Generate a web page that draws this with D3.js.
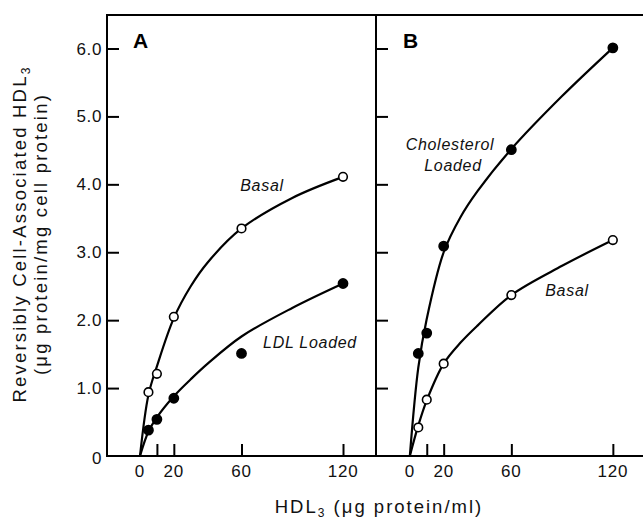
<!DOCTYPE html>
<html><head><meta charset="utf-8">
<script src="https://cdn.jsdelivr.net/npm/d3@7"></script>
<style>
body{margin:0;background:#fff;}
svg{display:block;font-family:"Liberation Sans",Arial,Helvetica,sans-serif;}
</style></head>
<body><svg id="chart" width="643" height="519"></svg>
<script>
// ---- data ----
const doses = [5, 10, 20, 60, 120];
const basalA = [0.94, 1.21, 2.05, 3.35, 4.11];
const ldlLoadedA = [0.38, 0.54, 0.85, 1.51, 2.54];
const cholLoadedB = [1.51, 1.81, 3.09, 4.51, 6.01];
const basalB = [0.42, 0.83, 1.36, 2.37, 3.18];

// fitted curves
const fitX = [0, 5, 10, 20, 30, 40, 60, 90, 120];
const fitBasalA = [0, 0.90, 1.32, 2.03, 2.50, 2.85, 3.35, 3.80, 4.11];
const fitLdlA = [0, 0.36, 0.57, 0.88, 1.13, 1.36, 1.76, 2.18, 2.54];
const fitCholB = [0, 1.30, 2.02, 3.00, 3.52, 3.90, 4.52, 5.30, 6.01];
const fitBasalB = [0, 0.45, 0.82, 1.36, 1.67, 1.92, 2.37, 2.80, 3.18];

const yTicks = [0, 1, 2, 3, 4, 5, 6];
const yTickLabels = ["0", "1.0", "2.0", "3.0", "4.0", "5.0", "6.0"];
const xTickMarks = [10, 20, 60, 120];
const xTickLabels = [0, 20, 60, 120];

(function () {
const svg = d3.select("#chart");
const topY = 15, bottomY = 456;
const y = d3.scaleLinear().domain([0, 6]).range([456, 48.5]);
const xA = d3.scaleLinear().domain([-19.5, 139.5]).range([107, 376]);
const xB = d3.scaleLinear().domain([-20, 139]).range([376, 645]);

// frame
const frame = svg.append("g").attr("stroke", "#000").attr("stroke-width", 2).attr("fill", "none");
frame.append("line").attr("x1", 107).attr("x2", 643).attr("y1", topY).attr("y2", topY);
frame.append("line").attr("x1", 106).attr("x2", 643).attr("y1", bottomY).attr("y2", bottomY);
frame.append("line").attr("x1", 107).attr("x2", 107).attr("y1", topY - 1).attr("y2", bottomY + 1);
frame.append("line").attr("x1", 376).attr("x2", 376).attr("y1", topY - 1).attr("y2", bottomY + 1);

// y ticks (inward, both panels)
[107, 376].forEach(x0 => {
  const ax = d3.axisRight(y).tickValues(yTicks.slice(1)).tickSize(12).tickFormat("");
  const g = svg.append("g").attr("transform", `translate(${x0},0)`).call(ax);
  g.select(".domain").remove();
  g.selectAll(".tick line").attr("stroke", "#000").attr("stroke-width", 2);
});
// y tick labels
svg.append("g").selectAll("text").data(yTicks).join("text")
  .attr("x", 102).attr("y", d => y(d) + (d === 0 ? 8 : 6))
  .attr("text-anchor", "end").attr("font-size", 17).attr("letter-spacing", 0.6).attr("fill", "#111")
  .text((d, i) => yTickLabels[i]);

// x ticks per panel
[xA, xB].forEach(xs => {
  const ax = d3.axisTop(xs).tickValues(xTickMarks).tickSize(12).tickFormat("");
  const g = svg.append("g").attr("transform", `translate(0,${bottomY})`).call(ax);
  g.select(".domain").remove();
  g.selectAll(".tick line").attr("stroke", "#000").attr("stroke-width", 2);
  svg.append("g").selectAll("text").data(xTickLabels).join("text")
    .attr("x", d => xs(d)).attr("y", 477).attr("text-anchor", "middle")
    .attr("font-size", 17).attr("letter-spacing", 0.8).attr("fill", "#111").text(d => d);
});

// curves
function drawCurve(xs, vals) {
  const line = d3.line().x((d, i) => xs(fitX[i])).y(d => y(d)).curve(d3.curveCatmullRom.alpha(0.5));
  svg.append("path").datum(vals).attr("d", line)
    .attr("fill", "none").attr("stroke", "#000").attr("stroke-width", 2.2);
}
drawCurve(xA, fitBasalA);
drawCurve(xA, fitLdlA);
drawCurve(xB, fitCholB);
drawCurve(xB, fitBasalB);

// points
function drawPoints(xs, vals, filled) {
  svg.append("g").selectAll("circle").data(vals).join("circle")
    .attr("cx", (d, i) => xs(doses[i])).attr("cy", d => y(d))
    .attr("r", filled ? 4.6 : 4.3)
    .attr("fill", filled ? "#000" : "#fff").attr("stroke", "#000").attr("stroke-width", 1.6);
}
drawPoints(xA, basalA, false);
drawPoints(xA, ldlLoadedA, true);
drawPoints(xB, cholLoadedB, true);
drawPoints(xB, basalB, false);

// panel letters
svg.append("text").attr("x", 133).attr("y", 48).attr("font-size", 21).attr("font-weight", "bold").text("A");
svg.append("text").attr("x", 403).attr("y", 48).attr("font-size", 21).attr("font-weight", "bold").text("B");

// series labels
const lab = (x, yy, t) => svg.append("text").attr("x", x).attr("y", yy)
  .attr("text-anchor", "middle").attr("font-size", 16).attr("font-style", "italic")
  .attr("letter-spacing", 0.7).attr("fill", "#111").text(t);
lab(262, 191, "Basal");
lab(310, 348, "LDL Loaded");
lab(450, 150, "Cholesterol");
lab(453, 171, "Loaded");
lab(567, 296, "Basal");

// x-axis title
const xt = svg.append("text").attr("x", 379).attr("y", 513).attr("text-anchor", "middle")
  .attr("font-size", 18.5).attr("letter-spacing", 2).attr("fill", "#111");
xt.append("tspan").text("HDL");
xt.append("tspan").attr("font-size", 12).attr("dy", 4).text("3");
xt.append("tspan").attr("dy", -4).text(" (\u03bcg protein/ml)");

// y-axis title
const yt = svg.append("g").attr("transform", "translate(0,234) rotate(-90)");
const t1 = yt.append("text").attr("x", 0).attr("y", 26).attr("text-anchor", "middle")
  .attr("font-size", 18.5).attr("letter-spacing", 2.2).attr("fill", "#111");
t1.append("tspan").text("Reversibly Cell-Associated HDL");
t1.append("tspan").attr("font-size", 12).attr("dy", 4).text("3");
yt.append("text").attr("x", 0).attr("y", 47).attr("text-anchor", "middle")
  .attr("font-size", 18.5).attr("letter-spacing", 2.2).attr("fill", "#111")
  .text("(\u03bcg protein/mg cell protein)");
})();
</script></body></html>
